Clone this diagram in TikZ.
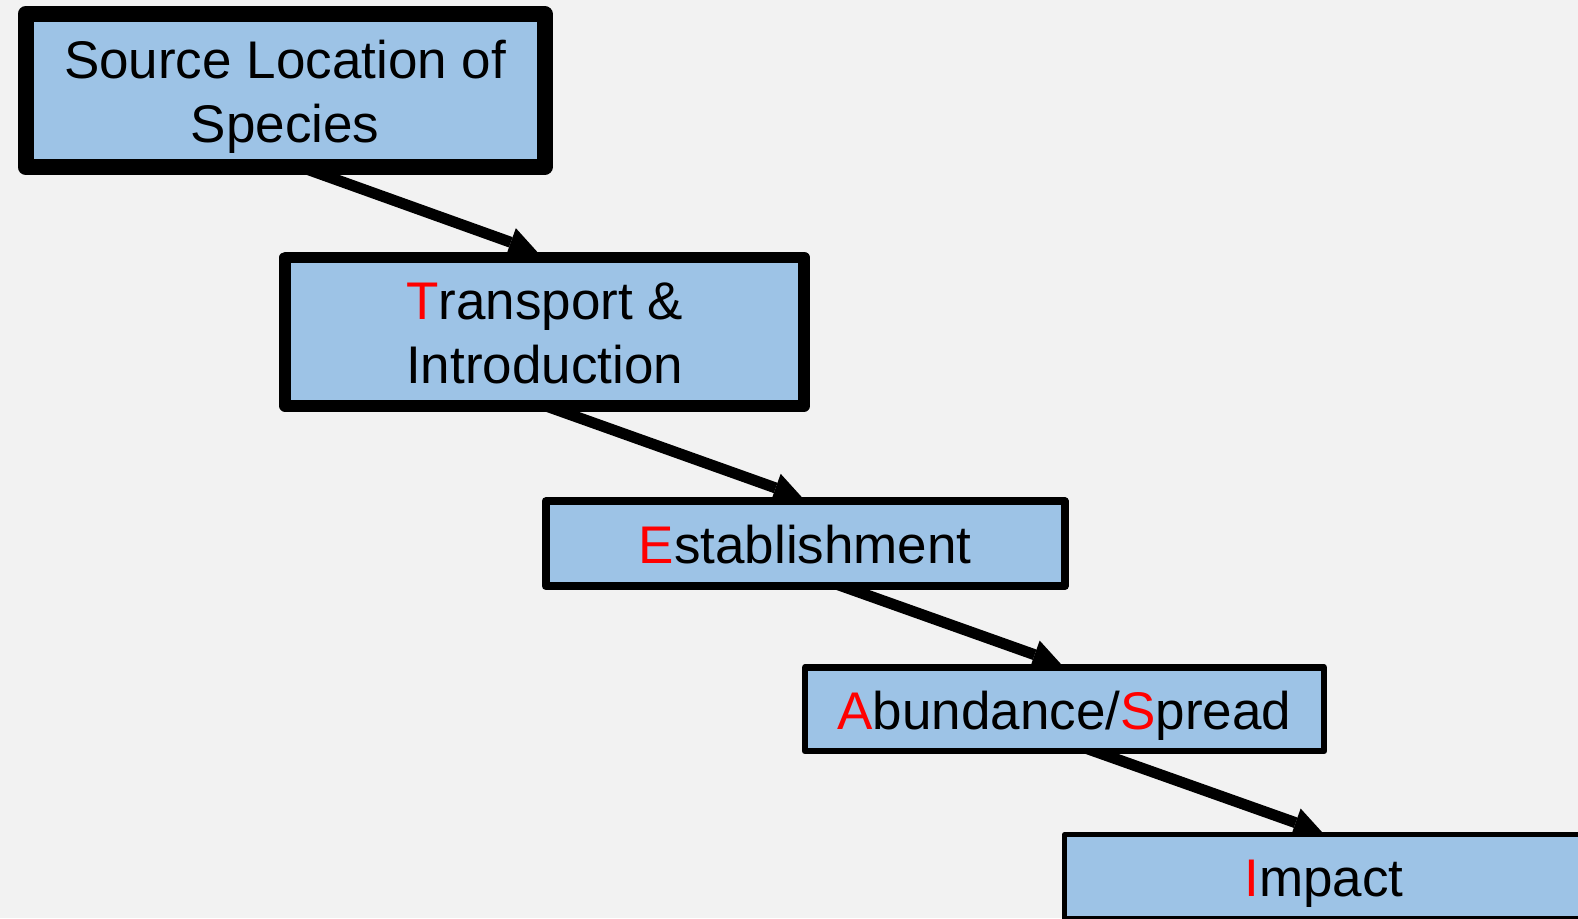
\documentclass[tikz,border=0pt]{standalone}
\usepackage{fontspec}
\setmainfont{Liberation Sans}
\usetikzlibrary{arrows.meta}
\definecolor{boxblue}{HTML}{9DC3E6}
\definecolor{bggray}{HTML}{F2F2F2}
\definecolor{accred}{HTML}{FF0000}
\newcommand\lnstrut{\rule[-12pt]{0pt}{64pt}}
\newcommand\rl[1]{\textcolor{accred}{#1}}
\pgfdeclarelayer{bg}
\pgfsetlayers{bg,main}
\begin{document}
\begin{tikzpicture}[x=1pt,y=-1pt,
  stage/.style={draw=black, fill=boxblue, rectangle, line join=round, inner sep=0pt,
    minimum width=519pt, align=center, font=\fontsize{53}{64}\selectfont},
  flow/.style={draw=black, line width=11pt,
    -{Triangle[length=28pt,width=30pt,line width=0pt]}, shorten <=-20pt}]
\useasboundingbox (0,0) rectangle (1578,918);

\node[stage, line width=16pt, minimum height=153pt] (src) at (285,90.5)
  {\lnstrut Source Location of\\\lnstrut Species};
\node[stage, line width=11.5pt, minimum height=148.5pt] (trans) at (544.7,331.75)
  {\lnstrut\rl{T}ransport \&\\\lnstrut Introduction};
\node[stage, line width=8pt, minimum height=84.7pt] (est) at (805.2,543.7)
  {\lnstrut\rl{E}stablishment};
\node[stage, line width=6.5pt, minimum height=83.7pt] (abund) at (1064.5,709.2)
  {\lnstrut\rl{A}bundance/\rl{S}pread};
\node[stage, line width=4.5pt, minimum height=84pt] (imp) at (1324,876.3)
  {\lnstrut\rl{I}mpact};

\begin{pgfonlayer}{bg}
  \fill[bggray] (0,0) rectangle (1578,918);
  \draw[flow] ([xshift=305.7pt]src.south west) -- ([xshift=257.7pt]trans.north west);
  \draw[flow] ([xshift=282.7pt]trans.south west) -- ([xshift=260.3pt]est.north west);
  \draw[flow] ([xshift=311.3pt]est.south west) -- ([xshift=259.25pt]abund.north west);
  \draw[flow] ([xshift=301.25pt]abund.south west) -- ([xshift=259.75pt]imp.north west);
\end{pgfonlayer}
\end{tikzpicture}
\end{document}
